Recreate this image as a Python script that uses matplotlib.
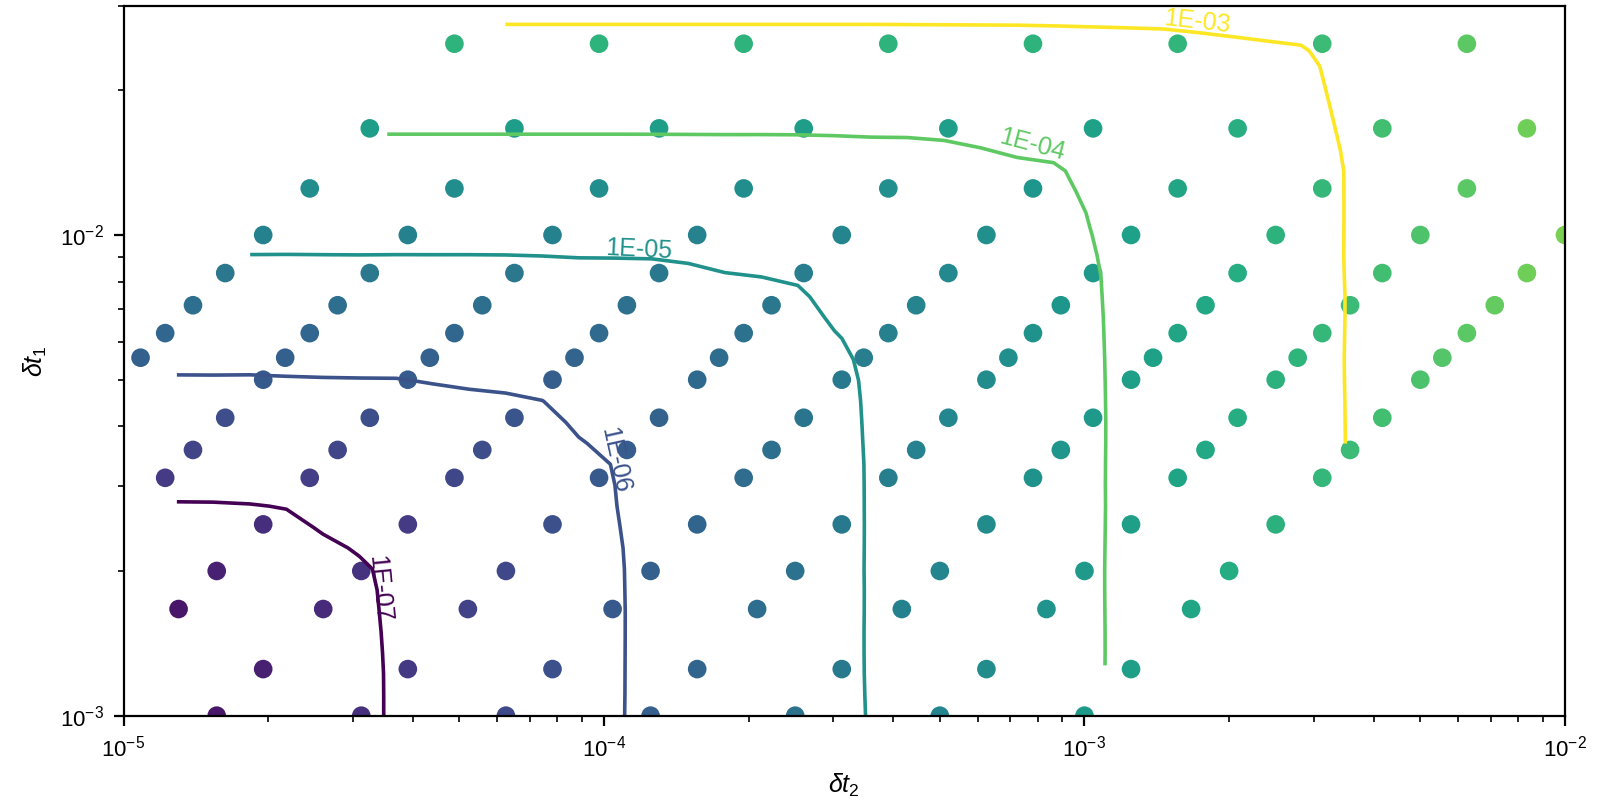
import numpy as np
import matplotlib
matplotlib.use('Agg')
import matplotlib.pyplot as plt
import matplotlib.tri as mtri

plt.rcParams['font.family'] = 'Liberation Sans'
plt.rcParams['mathtext.fontset'] = 'custom'
plt.rcParams['mathtext.rm'] = 'Liberation Sans'
plt.rcParams['mathtext.it'] = 'Liberation Sans:italic'
plt.rcParams['mathtext.bf'] = 'Liberation Sans:bold'

# outer step of each row of runs (first row lies above the visible window)
dt1Rows = [1/20, 1/40, 1/60, 1/80, 1/100, 1/120, 1/140, 1/160, 1/180,
           1/200, 1/240, 1/280, 1/320, 1/400, 1/500, 1/600, 1/800, 1/1000]

# inner steps of each row
dt2Rows = [
    [9.766e-5, 1.953e-4, 3.906e-4, 7.813e-4, 1.563e-3, 3.125e-3, 6.25e-3, 1.25e-2],
    [4.883e-5, 9.766e-5, 1.953e-4, 3.906e-4, 7.813e-4, 1.563e-3, 3.125e-3, 6.25e-3],
    [3.255e-5, 6.510e-5, 1.302e-4, 2.604e-4, 5.208e-4, 1.042e-3, 2.083e-3, 4.167e-3, 8.333e-3],
    [2.441e-5, 4.883e-5, 9.766e-5, 1.953e-4, 3.906e-4, 7.813e-4, 1.563e-3, 3.125e-3, 6.25e-3],
    [1.953e-5, 3.906e-5, 7.813e-5, 1.563e-4, 3.125e-4, 6.25e-4, 1.25e-3, 2.5e-3, 5e-3, 1e-2],
    [1.628e-5, 3.255e-5, 6.510e-5, 1.302e-4, 2.604e-4, 5.208e-4, 1.042e-3, 2.083e-3, 4.167e-3, 8.333e-3],
    [1.395e-5, 2.790e-5, 5.580e-5, 1.116e-4, 2.232e-4, 4.464e-4, 8.929e-4, 1.786e-3, 3.571e-3, 7.143e-3],
    [1.221e-5, 2.441e-5, 4.883e-5, 9.766e-5, 1.953e-4, 3.906e-4, 7.813e-4, 1.563e-3, 3.125e-3, 6.25e-3],
    [1.085e-5, 2.170e-5, 4.340e-5, 8.681e-5, 1.736e-4, 3.472e-4, 6.944e-4, 1.389e-3, 2.778e-3, 5.556e-3],
    [1.953e-5, 3.906e-5, 7.813e-5, 1.563e-4, 3.125e-4, 6.25e-4, 1.25e-3, 2.5e-3, 5e-3],
    [1.628e-5, 3.255e-5, 6.510e-5, 1.302e-4, 2.604e-4, 5.208e-4, 1.042e-3, 2.083e-3, 4.167e-3],
    [1.395e-5, 2.790e-5, 5.580e-5, 1.116e-4, 2.232e-4, 4.464e-4, 8.929e-4, 1.786e-3, 3.571e-3],
    [1.221e-5, 2.441e-5, 4.883e-5, 9.766e-5, 1.953e-4, 3.906e-4, 7.813e-4, 1.563e-3, 3.125e-3],
    [1.953e-5, 3.906e-5, 7.813e-5, 1.563e-4, 3.125e-4, 6.25e-4, 1.25e-3, 2.5e-3],
    [1.563e-5, 3.125e-5, 6.25e-5, 1.25e-4, 2.5e-4, 5e-4, 1e-3, 2e-3],
    [1.302e-5, 2.604e-5, 5.208e-5, 1.042e-4, 2.083e-4, 4.167e-4, 8.333e-4, 1.667e-3],
    [1.953e-5, 3.906e-5, 7.813e-5, 1.563e-4, 3.125e-4, 6.25e-4, 1.25e-3],
    [1.563e-5, 3.125e-5, 6.25e-5, 1.25e-4, 2.5e-4, 5e-4, 1e-3],
]

# log10 of the error of each run
logErrRows = [
    [-1.38, -1.38, -1.37, -1.35, -1.20, -0.95, -0.55, -0.10],
    [-3.25, -3.25, -3.25, -3.25, -3.24, -3.19, -2.96, -2.47],
    [-3.95, -3.95, -3.95, -3.95, -3.93, -3.79, -3.40, -2.84, -2.24],
    [-4.45, -4.45, -4.45, -4.44, -4.40, -4.17, -3.67, -3.09, -2.49],
    [-4.84, -4.84, -4.83, -4.81, -4.69, -4.37, -3.86, -3.28, -2.68, -2.08],
    [-5.15, -5.15, -5.15, -5.11, -4.95, -4.57, -4.03, -3.44, -2.84, -2.24],
    [-5.42, -5.42, -5.41, -5.35, -5.15, -4.73, -4.17, -3.58, -2.98, -2.38],
    [-5.65, -5.65, -5.64, -5.56, -5.32, -4.86, -4.29, -3.69, -3.09, -2.49],
    [-5.86, -5.85, -5.83, -5.74, -5.46, -4.97, -4.39, -3.80, -3.20, -2.59],
    [-6.04, -6.01, -5.90, -5.58, -5.07, -4.49, -3.89, -3.29, -2.69],
    [-6.35, -6.31, -6.15, -5.77, -5.24, -4.65, -4.05, -3.45, -2.84],
    [-6.61, -6.56, -6.36, -5.93, -5.37, -4.78, -4.18, -3.58, -2.98],
    [-6.84, -6.77, -6.52, -6.06, -5.49, -4.90, -4.30, -3.70, -3.09],
    [-7.15, -6.82, -6.29, -5.69, -5.09, -4.49, -3.89, -3.29],
    [-7.46, -7.05, -6.49, -5.89, -5.29, -4.69, -4.08, -3.48],
    [-7.70, -7.23, -6.65, -6.05, -5.45, -4.84, -4.24, -3.64],
    [-7.49, -6.90, -6.30, -5.70, -5.09, -4.49, -3.89],
    [-7.69, -7.09, -6.49, -5.89, -5.29, -4.69, -4.08],
]

contourLevels = [-7, -6, -5, -4, -3]
# where the contour labels sit (dt2, dt1)
labelSpots = [(3.5e-5, 1.6e-3), (1.1e-4, 2.95e-3), (1.18e-4, 9.4e-3),
              (7.9e-4, 1.57e-2), (1.73e-3, 2.82e-2)]


def flattenRows():
    dt1 = []
    dt2 = []
    logErr = []
    for i in range(len(dt1Rows)):
        for j in range(len(dt2Rows[i])):
            dt1.append(dt1Rows[i])
            dt2.append(dt2Rows[i][j])
            logErr.append(logErrRows[i][j])
    return np.array(dt1), np.array(dt2), np.array(logErr)


def labelText(value):
    return '%.0E' % (10.0 ** value)


dt1, dt2, logErr = flattenRows()

# interpolate the error on a coarse grid in log space
triang = mtri.Triangulation(np.log10(dt2), np.log10(dt1))
interp = mtri.LinearTriInterpolator(triang, logErr)
gx = np.linspace(-4.965, -2.0, 40)
gy = np.linspace(-3.0, -1.30, 40)
GX, GY = np.meshgrid(gx, gy)
gridErr = interp(GX, GY)

fig = plt.figure(figsize=(8, 3.995), dpi=200)
ax = fig.add_axes([0.0772, 0.1043, 0.9009, 0.8886])
ax.set_xscale('log')
ax.set_yscale('log')
ax.set_xlim(1e-5, 1e-2)
ax.set_ylim(1e-3, 3e-2)

ax.scatter(dt2, dt1, c=logErr, cmap='viridis', vmin=-8.15, vmax=-0.55,
           s=45, linewidths=0)

cs = ax.contour(10.0 ** gx, 10.0 ** gy, gridErr, levels=contourLevels,
                cmap='viridis', linewidths=1.3)
labels = ax.clabel(cs, fmt=labelText, manual=labelSpots, inline=False,
                   fontsize=9)
# text sits on the line, not across it
for lab in labels:
    lab.set_verticalalignment('baseline')

ax.set_xlabel(r'$\delta t_2$', fontsize=9)
ax.set_ylabel(r'$\delta t_1$', fontsize=9)
ax.tick_params(labelsize=8)

fig.savefig('out.png', dpi=200)
